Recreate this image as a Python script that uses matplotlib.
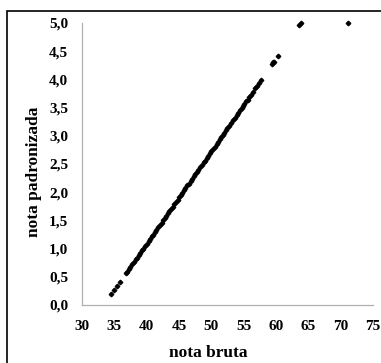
import matplotlib
matplotlib.use("Agg")
import matplotlib.pyplot as plt
from matplotlib.patches import Rectangle

nota_bruta = [34.55, 34.97, 35.4, 35.85,
              36.8, 37.0, 37.3, 37.5, 37.8, 38.0, 38.3, 38.5, 38.8, 39.0,
              39.3, 39.5, 39.8, 40.0, 40.3, 40.5, 40.8, 41.0, 41.3, 41.5,
              41.8, 42.0, 42.3, 42.5, 42.8, 43.0, 43.3, 43.5, 43.8, 44.0,
              44.3, 44.5, 44.8, 45.0, 45.3, 45.5, 45.8, 46.0, 46.3, 46.5,
              46.8, 47.0, 47.3, 47.5, 47.8, 48.0, 48.3, 48.5, 48.8, 49.0,
              49.3, 49.5, 49.8, 50.0, 50.3, 50.5, 50.8, 51.0, 51.3, 51.5,
              51.8, 52.0, 52.3, 52.5, 52.8, 53.1, 53.4, 53.6, 53.9, 54.2,
              54.4, 54.7, 54.9, 55.1, 55.4, 55.6, 55.9, 56.1, 56.4, 56.8,
              57.1, 57.4, 57.7, 59.4, 59.6, 59.7, 60.3, 63.6, 63.8, 71.1]
nota_padronizada = [0.20, 0.27, 0.33, 0.41,
                    0.56, 0.59, 0.64, 0.68, 0.72, 0.76, 0.81, 0.84, 0.89, 0.92,
                    0.97, 1.00, 1.05, 1.09, 1.13, 1.17, 1.22, 1.25, 1.30, 1.33,
                    1.38, 1.41, 1.46, 1.50, 1.54, 1.58, 1.63, 1.66, 1.71, 1.74,
                    1.79, 1.82, 1.87, 1.91, 1.95, 1.99, 2.04, 2.07, 2.12, 2.15,
                    2.20, 2.23, 2.28, 2.32, 2.36, 2.40, 2.45, 2.48, 2.53, 2.56,
                    2.61, 2.64, 2.69, 2.73, 2.77, 2.81, 2.86, 2.89, 2.94, 2.97,
                    3.02, 3.05, 3.10, 3.14, 3.18, 3.23, 3.28, 3.32, 3.37, 3.41,
                    3.45, 3.50, 3.53, 3.56, 3.61, 3.64, 3.69, 3.73, 3.78, 3.84,
                    3.89, 3.94, 3.99, 4.27, 4.30, 4.31, 4.41, 4.97, 5.00, 5.00]

x_ticks = [30, 35, 40, 45, 50, 55, 60, 65, 70, 75]
y_ticks = [0.0, 0.5, 1.0, 1.5, 2.0, 2.5, 3.0, 3.5, 4.0, 4.5, 5.0]

W, H = 381, 363
fig = plt.figure(figsize=(W / 100, H / 100), dpi=100)
font = "Liberation Serif"

ax = fig.add_axes([82 / W, 1 - 305 / H, (373 - 82) / W, (305 - 23) / H])
ax.plot(nota_bruta, nota_padronizada, linestyle="none", marker="D",
        markersize=2.3, color="black", clip_on=False)
ax.set_xlim(30, 75)
ax.set_ylim(0, 5)
ax.set_xticks(x_ticks)
ax.set_yticks(y_ticks)
ax.set_xticklabels([str(t) for t in x_ticks], fontfamily=font,
                   fontweight="bold", fontsize=11)
ax.set_yticklabels([f"{t:.1f}".replace(".", ",") for t in y_ticks],
                   fontfamily=font, fontweight="bold", fontsize=11)
ax.tick_params(axis="y", length=0, pad=10)
ax.tick_params(axis="x", length=0, pad=11)
for s in ["top", "right"]:
    ax.spines[s].set_visible(False)
for s in ["left", "bottom"]:
    ax.spines[s].set_color("#b0b0b0")
    ax.spines[s].set_linewidth(0.9)

fig.text(208 / W, 1 - 353 / H, "nota bruta", ha="center", va="center",
         fontfamily=font, fontweight="bold", fontsize=12.5)
fig.text(34 / W, 1 - 172 / H, "nota padronizada", ha="center", va="center",
         rotation=90, fontfamily=font, fontweight="bold", fontsize=12.5)

fig.patches.append(Rectangle((7 / W, -0.1), 1.2, 1 - 11 / H + 0.1,
                             transform=fig.transFigure, fill=False,
                             edgecolor="black", linewidth=1.2))

fig.savefig("out.png", dpi=100)
